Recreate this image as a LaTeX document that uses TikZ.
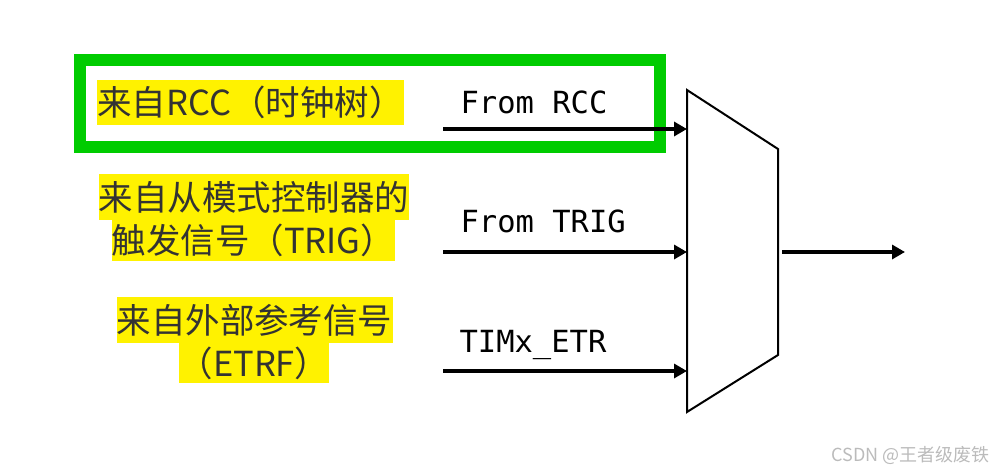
\documentclass[tikz,border=0pt]{standalone}
\usepackage{fontspec}
\setmainfont{Noto Sans CJK SC}
\newfontfamily\monofont{DejaVu Sans Mono}
\usetikzlibrary{arrows.meta}
\definecolor{tim-green}{HTML}{00CC00}
\definecolor{tim-yellow}{HTML}{FFF200}
\definecolor{tim-text}{HTML}{333333}
\definecolor{tim-mark}{HTML}{BBBBBB}

\begin{document}
\begin{tikzpicture}[x=1pt,y=-1pt,
			hl/.style={
				fill=tim-yellow, text=tim-text,
				inner sep=0pt, minimum height=45pt,
				font=\fontsize{34.5}{34.5}\selectfont
			},
			sig/.style={
				anchor=base west,
				font=\monofont\fontsize{30.5}{30.5}\selectfont
			},
			wire/.style={
				line width=4.5pt,
				-{Triangle[length=13pt,width=14pt]}
			},
			frame/.style={
				draw=tim-green, line width=12pt,
				inner sep=0pt
			}
			]
			
			\useasboundingbox (0,0) rectangle (997,474);
			
			% highlighted frame round the first input
			\node[frame, minimum width=579.5pt, minimum height=87pt] (rccframe) at (369.75,103) {};
			
			% yellow labels
			\node[hl, minimum width=307pt] (rcc) at (250.5,102.5) {来自RCC（时钟树）};
			\node[hl, minimum width=308pt, minimum height=46pt] (trigA) at (254,197) {来自从模式控制器的};
			\node[hl, minimum width=283pt, minimum height=41pt] (trigB) at (253.5,240.5) {触发信号（TRIG）};
			\node[hl, minimum width=275pt, minimum height=46pt] (etrA) at (254.5,320) {来自外部参考信号};
			\node[hl, minimum width=148pt, minimum height=40pt] (etrB) at (254,363) {（ETRF）};
			
			% signal names
			\node[sig] (sigrcc) at (457,113) {From RCC};
			\node[sig] (sigtrig) at (457,232) {From TRIG};
			\node[sig] (sigetr) at (456,352) {TIMx\_ETR};
			
			% multiplexer
			\draw[line width=2pt, line join=miter] (687,90) -- (778,149) -- (778,355) -- (687,412) -- cycle;
			\coordinate (muxA) at (687,129);
			\coordinate (muxB) at (687,252);
			\coordinate (muxC) at (687,371);
			\coordinate (muxout) at (782,252);
			
			\coordinate (srcA) at (443,129);
			\coordinate (srcB) at (443,252);
			\coordinate (srcC) at (443,371);
			\coordinate (dst) at (905,252);
			
			\draw[wire] (srcA) -- (muxA);
			\draw[wire] (srcB) -- (muxB);
			\draw[wire] (srcC) -- (muxC);
			\draw[wire] (muxout) -- (dst);
			
			\node[anchor=west, text=tim-mark, font=\fontsize{18}{18}\selectfont] (mark) at (828,455) {CSDN @王者级废铁};
			
		\end{tikzpicture}
\end{document}
